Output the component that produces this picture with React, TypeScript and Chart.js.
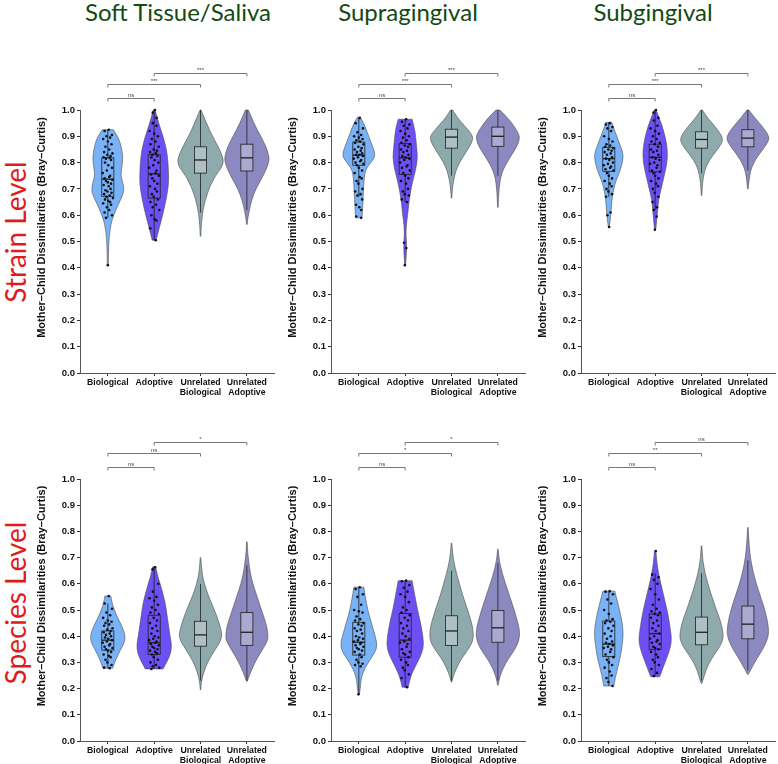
import React, { useEffect, useRef } from "react";
import { Chart, registerables } from "chart.js";
Chart.register(...registerables);

// ---------- DATA ----------
const COLUMN_TITLES = ["Soft Tissue/Saliva", "Supragingival", "Subgingival"];
const ROW_TITLES = ["Strain Level", "Species Level"];
const X_LABELS = [["Biological"], ["Adoptive"], ["Unrelated", "Biological"], ["Unrelated", "Adoptive"]];
const Y_TITLE = "Mother\u2013Child Dissimilarities (Bray\u2013Curtis)";
const Y_MIN = 0;
const Y_MAX = 1;
const Y_STEP = 0.1;
const BRACKET_LEVELS = [1.046, 1.099, 1.141];
const BRACKET_PAIRS = [[1, 2], [1, 3], [2, 4]];

// significance labels
const SIG_STRAIN_SOFT = ["ns", "***", "***"];
const SIG_STRAIN_SUPRA = ["ns", "***", "***"];
const SIG_STRAIN_SUB = ["ns", "***", "***"];
const SIG_SPECIES_SOFT = ["ns", "ns", "*"];
const SIG_SPECIES_SUPRA = ["ns", "*", "*"];
const SIG_SPECIES_SUB = ["ns", "**", "ns"];

// box stats per group: [lowerWhisker, q1, median, q3, upperWhisker]
const BOX_STRAIN_SOFT = [[0.59, 0.672, 0.737, 0.818, 0.925], [0.505, 0.665, 0.757, 0.83, 1.0], [0.61, 0.76, 0.81, 0.86, 1.0], [0.62, 0.768, 0.818, 0.87, 1.0]];
const BOX_STRAIN_SUPRA = [[0.67, 0.79, 0.828, 0.878, 0.97], [0.65, 0.755, 0.818, 0.872, 0.965], [0.75, 0.855, 0.897, 0.927, 1.0], [0.75, 0.862, 0.9, 0.935, 1.0]];
const BOX_STRAIN_SUB = [[0.67, 0.767, 0.815, 0.858, 0.95], [0.62, 0.765, 0.82, 0.87, 1.0], [0.76, 0.855, 0.888, 0.917, 1.0], [0.77, 0.86, 0.893, 0.925, 1.0]];
const BOX_SPECIES_SOFT = [[0.278, 0.347, 0.385, 0.42, 0.525], [0.275, 0.33, 0.375, 0.48, 0.663], [0.23, 0.362, 0.405, 0.457, 0.6], [0.23, 0.365, 0.415, 0.49, 0.67]];
const BOX_SPECIES_SUPRA = [[0.178, 0.328, 0.377, 0.453, 0.587], [0.205, 0.32, 0.385, 0.487, 0.612], [0.23, 0.365, 0.42, 0.478, 0.65], [0.23, 0.377, 0.432, 0.498, 0.68]];
const BOX_SPECIES_SUB = [[0.21, 0.322, 0.37, 0.458, 0.572], [0.248, 0.35, 0.41, 0.485, 0.64], [0.23, 0.367, 0.415, 0.473, 0.64], [0.27, 0.39, 0.446, 0.515, 0.69]];

// violin density profiles per group: [value, density]
const DENS_STRAIN_SOFT = [
  [[0.925, 5.5], [0.9, 10], [0.87, 13], [0.82, 15.5], [0.78, 14], [0.75, 13], [0.72, 15.5], [0.69, 16.5], [0.66, 13], [0.62, 8], [0.58, 4], [0.55, 2.5], [0.52, 1.5], [0.48, 0.8], [0.43, 0.6], [0.41, 0.5]],
  [[1.0, 1], [0.95, 4.5], [0.9, 9], [0.85, 12.5], [0.8, 14], [0.75, 14.5], [0.72, 14.5], [0.68, 13], [0.65, 11.5], [0.6, 8.5], [0.55, 5], [0.52, 3], [0.505, 2]],
  [[1.0, 0.5], [0.95, 6], [0.9, 12], [0.86, 18], [0.82, 22.5], [0.8, 23], [0.78, 21], [0.75, 15], [0.72, 11], [0.7, 8.5], [0.66, 5], [0.62, 2.5], [0.58, 1.2], [0.55, 0.6], [0.52, 0.3]],
  [[1.0, 1.5], [0.95, 7], [0.9, 14], [0.86, 19.5], [0.82, 22.5], [0.8, 22], [0.77, 19], [0.74, 15], [0.7, 9], [0.66, 5], [0.62, 2.5], [0.59, 1], [0.565, 0.3]],
];
const DENS_STRAIN_SUPRA = [
  [[0.972, 1.5], [0.95, 5], [0.92, 8], [0.9, 10], [0.87, 13], [0.84, 16], [0.82, 16], [0.8, 12], [0.78, 8], [0.76, 6], [0.72, 5], [0.68, 4.5], [0.64, 4], [0.6, 3.5], [0.59, 3]],
  [[0.965, 7], [0.93, 9.5], [0.9, 10.5], [0.86, 11.5], [0.82, 12.5], [0.78, 11], [0.75, 9], [0.72, 7], [0.68, 5], [0.64, 3.5], [0.6, 2.5], [0.56, 1], [0.52, 0.8], [0.49, 1.5], [0.46, 1.3], [0.43, 0.8], [0.41, 0.4]],
  [[1.0, 1], [0.97, 6], [0.94, 13], [0.91, 20], [0.89, 22], [0.86, 18], [0.83, 13], [0.8, 8], [0.77, 4.5], [0.74, 2.5], [0.71, 1.2], [0.68, 0.5], [0.665, 0.3]],
  [[1.0, 2], [0.97, 10], [0.94, 16], [0.91, 21], [0.89, 22], [0.86, 19], [0.83, 14], [0.8, 9], [0.77, 5], [0.74, 2.5], [0.7, 1.2], [0.66, 0.6], [0.63, 0.3]],
];
const DENS_STRAIN_SUB = [
  [[0.953, 3], [0.93, 5], [0.9, 8], [0.87, 11], [0.84, 14], [0.82, 14.5], [0.79, 13], [0.76, 10.5], [0.73, 7], [0.7, 5], [0.67, 3.5], [0.63, 2.5], [0.6, 2], [0.57, 1], [0.555, 0.4]],
  [[1.0, 1], [0.97, 4], [0.94, 7], [0.9, 10], [0.86, 12], [0.82, 12.5], [0.78, 11], [0.74, 8.5], [0.7, 6], [0.66, 3.5], [0.62, 2.5], [0.58, 1.5], [0.55, 0.8], [0.545, 0.3]],
  [[1.0, 0.8], [0.97, 6], [0.94, 13], [0.91, 19], [0.89, 21.5], [0.87, 20], [0.84, 14], [0.81, 8], [0.78, 4], [0.75, 2], [0.72, 1], [0.69, 0.5], [0.675, 0.3]],
  [[1.0, 1], [0.97, 7], [0.94, 14], [0.91, 20], [0.89, 21.5], [0.87, 19], [0.84, 13], [0.81, 7.5], [0.78, 3.5], [0.75, 1.8], [0.72, 0.8], [0.7, 0.3]],
];
const DENS_SPECIES_SOFT = [
  [[0.553, 3], [0.53, 4], [0.5, 6.5], [0.47, 10], [0.44, 14], [0.41, 17], [0.39, 17.5], [0.37, 16], [0.35, 13], [0.33, 10.5], [0.31, 8], [0.29, 6], [0.278, 5]],
  [[0.665, 1.5], [0.63, 3.5], [0.6, 6], [0.56, 9], [0.52, 11.5], [0.48, 13], [0.44, 14.5], [0.4, 16], [0.37, 17.5], [0.34, 17], [0.31, 14], [0.29, 11], [0.275, 9]],
  [[0.7, 0.3], [0.66, 1], [0.62, 2.5], [0.58, 5.5], [0.54, 9.5], [0.5, 14], [0.46, 18], [0.42, 21], [0.4, 21.5], [0.38, 20], [0.35, 15], [0.32, 10], [0.29, 6], [0.26, 3], [0.23, 1.2], [0.21, 0.5], [0.195, 0.2]],
  [[0.76, 0.3], [0.72, 0.8], [0.68, 2], [0.64, 3.5], [0.6, 6], [0.56, 9.5], [0.52, 13], [0.48, 16.5], [0.44, 20], [0.4, 21.5], [0.38, 20.5], [0.35, 16], [0.32, 11], [0.29, 7], [0.26, 3.5], [0.24, 1.5], [0.228, 0.4]],
];
const DENS_SPECIES_SUPRA = [
  [[0.587, 5], [0.55, 6.5], [0.5, 9], [0.46, 12], [0.42, 15], [0.38, 18], [0.35, 18], [0.32, 13], [0.29, 8], [0.26, 4], [0.23, 2], [0.2, 1.5], [0.178, 0.5]],
  [[0.612, 7], [0.58, 8.5], [0.54, 10.5], [0.5, 12.5], [0.46, 15], [0.42, 17], [0.38, 18.5], [0.35, 18], [0.32, 15], [0.29, 11], [0.26, 7], [0.23, 4.5], [0.205, 3]],
  [[0.755, 0.3], [0.72, 1], [0.68, 2.5], [0.64, 5], [0.6, 8], [0.56, 11], [0.52, 14.5], [0.48, 18], [0.44, 21], [0.41, 22], [0.38, 21.5], [0.35, 17], [0.32, 11], [0.29, 6.5], [0.26, 3], [0.24, 1.2], [0.225, 0.3]],
  [[0.732, 0.3], [0.7, 1], [0.66, 3], [0.62, 6], [0.58, 9.5], [0.54, 13], [0.5, 16.5], [0.46, 19.5], [0.43, 21.5], [0.4, 22], [0.37, 20], [0.34, 15.5], [0.31, 10], [0.28, 5.5], [0.25, 2.5], [0.23, 1], [0.213, 0.3]],
];
const DENS_SPECIES_SUB = [
  [[0.572, 6], [0.55, 7.5], [0.52, 9.5], [0.48, 12], [0.44, 14], [0.4, 14.5], [0.37, 13.5], [0.34, 12.5], [0.31, 11], [0.28, 9], [0.25, 7], [0.22, 5.5], [0.21, 5]],
  [[0.725, 0.8], [0.7, 1.2], [0.66, 2.5], [0.62, 4.5], [0.58, 7], [0.54, 9.5], [0.5, 12], [0.46, 14], [0.42, 15.5], [0.39, 16.5], [0.36, 15.5], [0.33, 13], [0.3, 10], [0.27, 7], [0.25, 5], [0.245, 4.5]],
  [[0.745, 0.3], [0.7, 1], [0.66, 2.5], [0.62, 5], [0.58, 8], [0.54, 11.5], [0.5, 15], [0.46, 19], [0.42, 21.5], [0.39, 22], [0.36, 18.5], [0.33, 13], [0.3, 8], [0.27, 4.5], [0.24, 2], [0.22, 0.4]],
  [[0.815, 0.3], [0.76, 1], [0.7, 2.5], [0.65, 5], [0.6, 8.5], [0.56, 12], [0.52, 15.5], [0.48, 18.5], [0.44, 20.5], [0.41, 21], [0.38, 19], [0.35, 15], [0.32, 10], [0.29, 5.5], [0.27, 2.5], [0.255, 0.5]],
];

// individual points (Biological, Adoptive)
const PTS_STRAIN_SOFT_BIO = [0.925, 0.92, 0.905, 0.9, 0.895, 0.89, 0.88, 0.87, 0.86, 0.85, 0.84, 0.835, 0.83, 0.825, 0.82, 0.818, 0.815, 0.81, 0.8, 0.79, 0.78, 0.77, 0.76, 0.75, 0.745, 0.74, 0.735, 0.73, 0.725, 0.72, 0.715, 0.71, 0.7, 0.695, 0.69, 0.685, 0.68, 0.675, 0.67, 0.665, 0.66, 0.655, 0.65, 0.645, 0.64, 0.63, 0.62, 0.61, 0.6, 0.59, 0.41];
const PTS_STRAIN_SOFT_ADOP = [1.0, 0.99, 0.97, 0.95, 0.94, 0.92, 0.91, 0.9, 0.89, 0.88, 0.87, 0.86, 0.85, 0.845, 0.84, 0.835, 0.83, 0.825, 0.82, 0.81, 0.8, 0.79, 0.78, 0.77, 0.76, 0.755, 0.75, 0.74, 0.73, 0.72, 0.71, 0.7, 0.69, 0.68, 0.67, 0.66, 0.65, 0.64, 0.63, 0.62, 0.6, 0.585, 0.58, 0.55, 0.505];
const PTS_STRAIN_SUPRA_BIO = [0.97, 0.95, 0.93, 0.915, 0.905, 0.9, 0.895, 0.89, 0.885, 0.88, 0.875, 0.87, 0.86, 0.855, 0.85, 0.845, 0.84, 0.835, 0.83, 0.83, 0.825, 0.82, 0.815, 0.81, 0.805, 0.8, 0.795, 0.79, 0.78, 0.77, 0.76, 0.745, 0.74, 0.73, 0.72, 0.7, 0.69, 0.68, 0.675, 0.66, 0.64, 0.63, 0.62, 0.595, 0.59];
const PTS_STRAIN_SUPRA_ADOP = [0.965, 0.955, 0.945, 0.94, 0.93, 0.92, 0.91, 0.9, 0.895, 0.885, 0.875, 0.87, 0.865, 0.86, 0.85, 0.845, 0.84, 0.83, 0.825, 0.82, 0.815, 0.81, 0.8, 0.79, 0.785, 0.78, 0.77, 0.76, 0.75, 0.74, 0.73, 0.72, 0.7, 0.69, 0.68, 0.675, 0.66, 0.65, 0.495, 0.475, 0.41];
const PTS_STRAIN_SUB_BIO = [0.95, 0.945, 0.935, 0.93, 0.92, 0.9, 0.89, 0.88, 0.87, 0.865, 0.86, 0.855, 0.85, 0.845, 0.84, 0.835, 0.83, 0.82, 0.815, 0.81, 0.8, 0.795, 0.79, 0.785, 0.78, 0.775, 0.77, 0.76, 0.75, 0.74, 0.73, 0.72, 0.71, 0.7, 0.69, 0.68, 0.67, 0.61, 0.6, 0.555];
const PTS_STRAIN_SUB_ADOP = [1.0, 0.99, 0.97, 0.96, 0.94, 0.93, 0.92, 0.91, 0.9, 0.89, 0.88, 0.875, 0.87, 0.86, 0.85, 0.845, 0.84, 0.83, 0.82, 0.815, 0.81, 0.8, 0.795, 0.79, 0.78, 0.77, 0.765, 0.76, 0.75, 0.74, 0.73, 0.72, 0.71, 0.7, 0.685, 0.67, 0.65, 0.63, 0.62, 0.595, 0.545];
const PTS_SPECIES_SOFT_BIO = [0.553, 0.525, 0.505, 0.49, 0.48, 0.47, 0.46, 0.455, 0.45, 0.445, 0.44, 0.43, 0.425, 0.42, 0.415, 0.41, 0.405, 0.4, 0.395, 0.39, 0.385, 0.38, 0.375, 0.37, 0.365, 0.36, 0.355, 0.35, 0.345, 0.34, 0.33, 0.325, 0.32, 0.31, 0.3, 0.29, 0.28, 0.278];
const PTS_SPECIES_SOFT_ADOP = [0.663, 0.655, 0.6, 0.57, 0.55, 0.545, 0.535, 0.52, 0.51, 0.5, 0.49, 0.485, 0.47, 0.46, 0.45, 0.44, 0.43, 0.42, 0.41, 0.4, 0.395, 0.39, 0.385, 0.38, 0.375, 0.37, 0.365, 0.36, 0.355, 0.35, 0.345, 0.34, 0.335, 0.33, 0.32, 0.31, 0.3, 0.29, 0.285, 0.28, 0.275];
const PTS_SPECIES_SUPRA_BIO = [0.587, 0.58, 0.56, 0.55, 0.52, 0.5, 0.495, 0.49, 0.475, 0.465, 0.46, 0.45, 0.445, 0.44, 0.43, 0.425, 0.42, 0.41, 0.4, 0.395, 0.39, 0.385, 0.38, 0.375, 0.37, 0.365, 0.36, 0.355, 0.35, 0.345, 0.34, 0.33, 0.32, 0.31, 0.3, 0.295, 0.29, 0.285, 0.178];
const PTS_SPECIES_SUPRA_ADOP = [0.612, 0.61, 0.595, 0.585, 0.57, 0.56, 0.55, 0.53, 0.51, 0.5, 0.49, 0.48, 0.47, 0.46, 0.45, 0.44, 0.43, 0.42, 0.41, 0.4, 0.39, 0.38, 0.375, 0.37, 0.36, 0.35, 0.34, 0.335, 0.33, 0.32, 0.31, 0.3, 0.29, 0.28, 0.27, 0.255, 0.24, 0.205];
const PTS_SPECIES_SUB_BIO = [0.572, 0.57, 0.56, 0.54, 0.525, 0.5, 0.485, 0.465, 0.46, 0.455, 0.45, 0.44, 0.43, 0.42, 0.41, 0.4, 0.39, 0.38, 0.375, 0.37, 0.365, 0.36, 0.355, 0.35, 0.34, 0.33, 0.32, 0.31, 0.3, 0.29, 0.28, 0.265, 0.25, 0.24, 0.225, 0.21];
const PTS_SPECIES_SUB_ADOP = [0.725, 0.635, 0.625, 0.615, 0.6, 0.58, 0.56, 0.54, 0.52, 0.505, 0.495, 0.49, 0.485, 0.48, 0.47, 0.46, 0.45, 0.44, 0.43, 0.42, 0.41, 0.4, 0.39, 0.385, 0.38, 0.375, 0.37, 0.36, 0.355, 0.35, 0.34, 0.33, 0.32, 0.31, 0.3, 0.29, 0.275, 0.26, 0.248];

// horizontal jitter offsets (category units) for the dots
const JITTER = [0.02, -0.07, 0.09, -0.03, 0.05, -0.1, 0.0, 0.08, -0.05, 0.03, -0.08, 0.1, -0.01, 0.06, -0.09, 0.04, -0.04, 0.07, -0.06, 0.01, 0.09, -0.02, -0.11, 0.05, 0.03, -0.07, 0.1, -0.04, 0.0, 0.07, -0.09, 0.02, 0.06, -0.05, -0.01, 0.08, -0.08, 0.04, -0.03, 0.11, -0.06, 0.01, 0.05, -0.1, 0.07, -0.02, 0.03, -0.07, 0.09, -0.04, 0.0, 0.06, -0.09, 0.02, -0.05, 0.08, -0.01, 0.04, -0.08, 0.06];

// ---------- STYLE ----------
const FONT = "'Liberation Sans', Arial, Helvetica, sans-serif";
const TITLE_FONT = "Lato, 'Open Sans', sans-serif";
const FILLS = ["#79b2f6", "#6d4ff6", "#8eaaad", "#8c88c0"];
const BOX_FILLS = [null, null, "rgba(255,255,255,0.28)", "rgba(255,255,255,0.28)"];
const DENSITY_SCALE = 1 / 46.7;
const BOX_HALF = 0.13;

function halfWidthAt(profile: number[][], v: number) {
  for (let i = 0; i < profile.length - 1; i++) {
    const [v0, w0] = profile[i];
    const [v1, w1] = profile[i + 1];
    if (v <= v0 && v >= v1) {
      const t = v0 === v1 ? 0 : (v0 - v) / (v0 - v1);
      return w0 + (w1 - w0) * t;
    }
  }
  return profile[profile.length - 1][1];
}

function smoothPath(ctx: CanvasRenderingContext2D, pts: { x: number; y: number }[], start: boolean) {
  if (start) ctx.moveTo(pts[0].x, pts[0].y);
  else ctx.lineTo(pts[0].x, pts[0].y);
  for (let i = 1; i < pts.length - 1; i++) {
    const mx = (pts[i].x + pts[i + 1].x) / 2;
    const my = (pts[i].y + pts[i + 1].y) / 2;
    ctx.quadraticCurveTo(pts[i].x, pts[i].y, mx, my);
  }
  const last = pts[pts.length - 1];
  ctx.lineTo(last.x, last.y);
}

function makeViolinPlugin(density: number[][][], box: number[][]) {
  return {
    id: "violins",
    beforeDatasetsDraw(chart: any) {
      const { ctx } = chart;
      const xs = chart.scales.x;
      const ys = chart.scales.y;
      density.forEach((profile, g) => {
        const c = g + 1;
        const right = profile.map(([v, d]) => ({ x: xs.getPixelForValue(c + d * DENSITY_SCALE), y: ys.getPixelForValue(v) }));
        const left = profile.map(([v, d]) => ({ x: xs.getPixelForValue(c - d * DENSITY_SCALE), y: ys.getPixelForValue(v) })).reverse();
        ctx.save();
        ctx.beginPath();
        smoothPath(ctx, right, true);
        smoothPath(ctx, left, false);
        ctx.closePath();
        ctx.fillStyle = FILLS[g];
        ctx.fill();
        ctx.strokeStyle = "#4d4d4d";
        ctx.lineWidth = 0.6;
        ctx.stroke();

        const [lo, q1, med, q3, hi] = box[g];
        const cx = xs.getPixelForValue(c);
        const bl = xs.getPixelForValue(c - BOX_HALF);
        const br = xs.getPixelForValue(c + BOX_HALF);
        ctx.strokeStyle = "#1e1e1e";
        ctx.lineWidth = 0.8;
        ctx.beginPath();
        ctx.moveTo(cx, ys.getPixelForValue(hi));
        ctx.lineTo(cx, ys.getPixelForValue(q3));
        ctx.moveTo(cx, ys.getPixelForValue(q1));
        ctx.lineTo(cx, ys.getPixelForValue(lo));
        ctx.stroke();
        const yT = ys.getPixelForValue(q3);
        const yB = ys.getPixelForValue(q1);
        if (BOX_FILLS[g]) {
          ctx.fillStyle = BOX_FILLS[g] as string;
          ctx.fillRect(bl, yT, br - bl, yB - yT);
        }
        ctx.strokeRect(bl, yT, br - bl, yB - yT);
        ctx.lineWidth = 1.3;
        ctx.beginPath();
        const ym = ys.getPixelForValue(med);
        ctx.moveTo(bl, ym);
        ctx.lineTo(br, ym);
        ctx.stroke();
        ctx.restore();
      });
    },
  };
}

function makeBracketPlugin(sig: string[]) {
  return {
    id: "brackets",
    afterDraw(chart: any) {
      const { ctx } = chart;
      const xs = chart.scales.x;
      const ys = chart.scales.y;
      ctx.save();
      ctx.strokeStyle = "#555";
      ctx.fillStyle = "#444";
      ctx.lineWidth = 0.8;
      ctx.font = `6px ${FONT}`;
      ctx.textAlign = "center";
      ctx.textBaseline = "bottom";
      BRACKET_PAIRS.forEach(([a, b], i) => {
        const x0 = xs.getPixelForValue(a);
        const x1 = xs.getPixelForValue(b);
        const y = Math.round(ys.getPixelForValue(BRACKET_LEVELS[i])) + 0.5;
        ctx.beginPath();
        ctx.moveTo(x0, y + 3);
        ctx.lineTo(x0, y);
        ctx.lineTo(x1, y);
        ctx.lineTo(x1, y + 3);
        ctx.stroke();
        ctx.fillText(sig[i], (x0 + x1) / 2, y - 0.5);
      });
      // y-axis title, centred on the panel including the bracket zone
      const area = chart.chartArea;
      const cy = (area.top + area.bottom) / 2 - 14;
      ctx.translate(ys.left + 12, cy);
      ctx.rotate(-Math.PI / 2);
      ctx.fillStyle = "#111";
      ctx.font = `bold 11px ${FONT}`;
      ctx.textAlign = "center";
      ctx.textBaseline = "middle";
      ctx.fillText(Y_TITLE, 0, 0);
      ctx.restore();
    },
  };
}

type PanelProps = {
  left: number;
  top: number;
  height: number;
  xAxisHeight: number;
  density: number[][][];
  box: number[][];
  points: number[][];
  sig: string[];
};

function Panel({ left, top, height, xAxisHeight, density, box, points, sig }: PanelProps) {
  const ref = useRef<HTMLCanvasElement>(null);
  const width = 246;
  useEffect(() => {
    if (!ref.current) return;
    const datasets = points.map((vals, g) => ({
      type: "scatter" as const,
      data: vals.map((v, i) => {
        const hw = halfWidthAt(density[g], v) * DENSITY_SCALE * 0.8;
        let j = JITTER[i % JITTER.length];
        if (Math.abs(j) > hw) j = Math.sign(j) * hw;
        return { x: g + 1 + j, y: v };
      }),
      pointRadius: 1.3,
      pointHoverRadius: 1.3,
      pointBackgroundColor: "#111",
      pointBorderWidth: 0,
      clip: false as any,
    }));
    const chart = new Chart(ref.current, {
      type: "scatter",
      data: { datasets },
      options: {
        animation: false,
        responsive: false,
        events: [],
        layout: { padding: { top: 50, left: 0, right: 0, bottom: 0 } },
        plugins: { legend: { display: false }, tooltip: { enabled: false } },
        scales: {
          x: {
            type: "linear",
            min: 0.4,
            max: 4.6,
            afterBuildTicks: (s: any) => {
              s.ticks = [1, 2, 3, 4].map((v) => ({ value: v }));
            },
            afterFit: (s: any) => {
              s.height = xAxisHeight;
            },
            ticks: {
              autoSkip: false,
              maxRotation: 0,
              padding: 1,
              color: "#111",
              font: { family: FONT, size: 8.7, weight: "bold" as const },
              callback: (v: any) => X_LABELS[Math.round(Number(v)) - 1] ?? "",
            },
            grid: { display: true, drawOnChartArea: false, drawTicks: true, tickLength: 3, color: "#333" },
            border: { display: true, color: "#555", width: 1 },
          },
          y: {
            type: "linear",
            min: Y_MIN,
            max: Y_MAX,
            afterFit: (s: any) => {
              s.width = 50;
            },
            ticks: {
              stepSize: Y_STEP,
              padding: 2,
              color: "#111",
              font: { family: FONT, size: 9.5, weight: "bold" as const },
              callback: (v: any) => Number(v).toFixed(1),
            },
            title: { display: false },
            grid: { display: true, drawOnChartArea: false, drawTicks: true, tickLength: 3, color: "#333" },
            border: { display: true, color: "#555", width: 1 },
          },
        },
      } as any,
      plugins: [makeViolinPlugin(density, box), makeBracketPlugin(sig)],
    });
    return () => chart.destroy();
  }, []);
  return (
    <canvas
      ref={ref}
      width={width}
      height={height}
      style={{ position: "absolute", left, top, width, height }}
    />
  );
}

const AXIS_X = [80, 331, 581];

export default function App() {
  const rows = [
    {
      top: 60,
      height: 340,
      xh: 27,
      panels: [
        { density: DENS_STRAIN_SOFT, box: BOX_STRAIN_SOFT, points: [PTS_STRAIN_SOFT_BIO, PTS_STRAIN_SOFT_ADOP], sig: SIG_STRAIN_SOFT },
        { density: DENS_STRAIN_SUPRA, box: BOX_STRAIN_SUPRA, points: [PTS_STRAIN_SUPRA_BIO, PTS_STRAIN_SUPRA_ADOP], sig: SIG_STRAIN_SUPRA },
        { density: DENS_STRAIN_SUB, box: BOX_STRAIN_SUB, points: [PTS_STRAIN_SUB_BIO, PTS_STRAIN_SUB_ADOP], sig: SIG_STRAIN_SUB },
      ],
    },
    {
      top: 429,
      height: 335,
      xh: 23,
      panels: [
        { density: DENS_SPECIES_SOFT, box: BOX_SPECIES_SOFT, points: [PTS_SPECIES_SOFT_BIO, PTS_SPECIES_SOFT_ADOP], sig: SIG_SPECIES_SOFT },
        { density: DENS_SPECIES_SUPRA, box: BOX_SPECIES_SUPRA, points: [PTS_SPECIES_SUPRA_BIO, PTS_SPECIES_SUPRA_ADOP], sig: SIG_SPECIES_SUPRA },
        { density: DENS_SPECIES_SUB, box: BOX_SPECIES_SUB, points: [PTS_SPECIES_SUB_BIO, PTS_SPECIES_SUB_ADOP], sig: SIG_SPECIES_SUB },
      ],
    },
  ];
  const colCenters = [178, 408, 653];
  const rowCenters = [232, 603];
  return (
    <div style={{ position: "absolute", left: 0, top: 0, width: 778, height: 764, background: "#fff", overflow: "hidden" }}>
      {COLUMN_TITLES.map((t, i) => (
        <div
          key={t}
          style={{
            position: "absolute",
            left: colCenters[i] - 150,
            width: 300,
            top: -3,
            textAlign: "center",
            fontFamily: TITLE_FONT,
            fontSize: 24,
            color: "#124a12",
            whiteSpace: "nowrap",
          }}
        >
          {t}
        </div>
      ))}
      {ROW_TITLES.map((t, i) => (
        <div
          key={t}
          style={{
            position: "absolute",
            left: 15 - 100,
            top: rowCenters[i] - 17,
            width: 200,
            height: 34,
            lineHeight: "34px",
            textAlign: "center",
            fontFamily: TITLE_FONT,
            fontSize: 28,
            color: "#e01b1b",
            whiteSpace: "nowrap",
            transform: "rotate(-90deg)",
          }}
        >
          {t}
        </div>
      ))}
      {rows.map((r, ri) =>
        r.panels.map((p, ci) => (
          <Panel
            key={`${ri}-${ci}`}
            left={AXIS_X[ci] - 50}
            top={r.top}
            height={r.height}
            xAxisHeight={r.xh}
            density={p.density}
            box={p.box}
            points={p.points}
            sig={p.sig}
          />
        ))
      )}
    </div>
  );
}
